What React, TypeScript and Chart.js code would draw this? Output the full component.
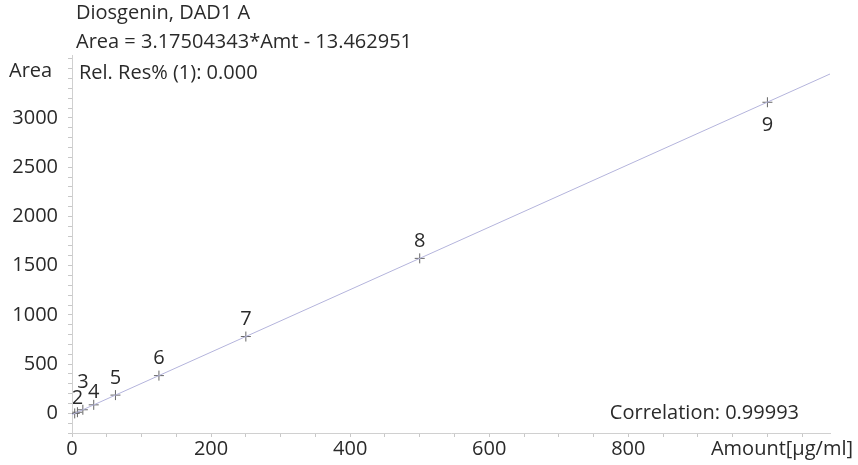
import React, { useEffect, useRef } from "react";
import { Chart, registerables } from "chart.js";

Chart.register(...registerables);

const pointLabels = ["1", "2", "3", "4", "5", "6", "7", "8", "9"];
const amounts = [3.9, 7.8, 15.6, 31.25, 62.5, 125, 250, 500, 1000];
const areas = [-1, 11, 36, 86, 185, 383, 780, 1574, 3160];
const labelOffsetY = [-15, -14, -27, -13, -17, -17, -17, -17, 23];
const fitX = [0, 1090];
const fitY = [-13.46, 3447];
const titleLines = ["Diosgenin, DAD1 A", "Area = 3.17504343*Amt - 13.462951"];
const relRes = "Rel. Res% (1): 0.000";
const correlation = "Correlation: 0.99993";
const xTitle = "Amount[µg/ml]";
const yTitle = "Area";

const FONT = "'Open Sans', Lato, sans-serif";
const TEXT = "#2a2a2a";
const FS = 20;

const textPlugin = {
  id: "textPlugin",
  afterDatasetsDraw(chart: any) {
    const { ctx, chartArea, scales } = chart;
    const x = scales.x;
    const y = scales.y;
    ctx.save();
    ctx.fillStyle = TEXT;
    ctx.font = `${FS}px ${FONT}`;
    ctx.textBaseline = "middle";
    ctx.textAlign = "left";
    ctx.fillText(titleLines[0], 76, 13);
    ctx.fillText(titleLines[1], 76, 42);
    ctx.fillText(relRes, 79, 73);
    ctx.fillText(yTitle, 9, 71);
    ctx.textAlign = "right";
    ctx.fillText(correlation, 799, 413);
    ctx.fillText(xTitle, 853, 449);
    // point labels, clipped to plot area
    ctx.beginPath();
    ctx.rect(chartArea.left + 1, 0, chartArea.right - chartArea.left, chart.height);
    ctx.clip();
    ctx.textAlign = "center";
    for (let i = 0; i < amounts.length; i++) {
      const px = x.getPixelForValue(amounts[i]);
      const py = y.getPixelForValue(areas[i]);
      ctx.fillText(pointLabels[i], px + (i === 0 ? -4 : 0), py + labelOffsetY[i]);
    }
    ctx.restore();
  },
};

export default function App() {
  const ref = useRef<HTMLCanvasElement>(null);
  useEffect(() => {
    document.body.style.margin = "0";
    const chart = new Chart(ref.current!, {
      type: "scatter",
      data: {
        datasets: [
          {
            type: "line",
            data: fitX.map((v, i) => ({ x: v, y: fitY[i] })),
            borderColor: "#b4b4dc",
            borderWidth: 1,
            pointRadius: 0,
            fill: false,
          } as any,
          {
            data: amounts.map((v, i) => ({ x: v, y: areas[i] })),
            pointStyle: "cross",
            pointRadius: 5,
            borderColor: "#666",
            borderWidth: 1,
            backgroundColor: "#666",
          },
        ],
      },
      options: {
        animation: false,
        responsive: false,
        maintainAspectRatio: false,
        layout: { padding: { left: 0, top: 55, right: 28, bottom: 0 } },
        plugins: { legend: { display: false }, tooltip: { enabled: false } },
        scales: {
          x: {
            type: "linear",
            min: 0,
            max: 1090,
            border: { color: "#d0d0d0", width: 1 },
            grid: { drawOnChartArea: false, drawTicks: true, tickLength: 4, color: "#c8c8c8" },
            ticks: {
              stepSize: 50,
              autoSkip: false,
              includeBounds: false,
              maxRotation: 0,
              color: TEXT,
              font: { family: FONT, size: FS },
              padding: 0,
              callback: (v: any) => (v % 200 === 0 && v <= 800 ? String(v) : ""),
            },
            afterFit: (s: any) => {
              s.height = 32;
            },
          },
          y: {
            type: "linear",
            min: -200,
            max: 3640,
            border: { color: "#d0d0d0", width: 1 },
            grid: { drawOnChartArea: false, drawTicks: true, tickLength: 4, color: "#c8c8c8" },
            ticks: {
              stepSize: 100,
              autoSkip: false,
              includeBounds: false,
              color: TEXT,
              font: { family: FONT, size: FS },
              padding: 10,
              callback: (v: any) => (v % 500 === 0 && v >= 0 && v <= 3000 ? String(v) : ""),
            },
            afterFit: (s: any) => {
              s.width = 72;
            },
          },
        },
      },
      plugins: [textPlugin],
    });
    return () => chart.destroy();
  }, []);
  return (
    <div style={{ position: "absolute", left: 0, top: 0, width: 858, height: 465, background: "#fff" }}>
      <canvas ref={ref} width={858} height={465} style={{ width: 858, height: 465 }} />
    </div>
  );
}
